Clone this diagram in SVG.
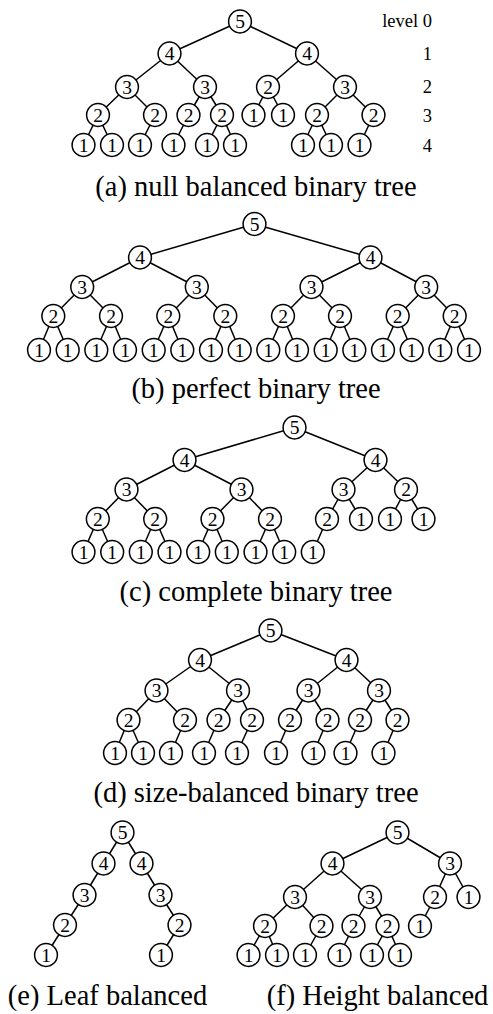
<svg xmlns="http://www.w3.org/2000/svg" width="493" height="1014" viewBox="0 0 493 1014">
<style>
.n use{fill:#fff;stroke:#000;stroke-width:1.5}
.n text{font-family:"Liberation Serif","Times New Roman",serif;font-size:19.5px;text-anchor:middle;fill:#000;stroke:none}
#connectors line{stroke:#000;stroke-width:1.5}
.cap{font-family:"Liberation Serif","Times New Roman",serif;font-size:28.5px;text-anchor:middle;fill:#000}
.lvl{font-family:"Liberation Serif","Times New Roman",serif;font-size:18.5px;text-anchor:end;fill:#000}
</style>
<defs>
<circle id="c" r="11.4" fill="#fff" stroke="#000" stroke-width="1.5"/>
</defs>
<g id="connectors">
<!-- tree a -->
<line x1="240" y1="21.5" x2="169.5" y2="53.5"/>
<line x1="240" y1="21.5" x2="307" y2="53.5"/>
<line x1="169.5" y1="53.5" x2="127" y2="87"/>
<line x1="169.5" y1="53.5" x2="205" y2="87"/>
<line x1="307" y1="53.5" x2="268" y2="87"/>
<line x1="307" y1="53.5" x2="345" y2="87"/>
<line x1="127" y1="87" x2="98" y2="115"/>
<line x1="127" y1="87" x2="155" y2="115"/>
<line x1="205" y1="87" x2="188.5" y2="115"/>
<line x1="205" y1="87" x2="222" y2="115"/>
<line x1="268" y1="87" x2="253.5" y2="115"/>
<line x1="268" y1="87" x2="283" y2="115"/>
<line x1="345" y1="87" x2="317" y2="115"/>
<line x1="345" y1="87" x2="373.5" y2="115"/>
<line x1="98" y1="115" x2="83.5" y2="145"/>
<line x1="98" y1="115" x2="112" y2="145"/>
<line x1="155" y1="115" x2="140" y2="145"/>
<line x1="188.5" y1="115" x2="173.5" y2="145"/>
<line x1="222" y1="115" x2="207" y2="145"/>
<line x1="222" y1="115" x2="235" y2="145"/>
<line x1="317" y1="115" x2="303" y2="145"/>
<line x1="317" y1="115" x2="331" y2="145"/>
<line x1="373.5" y1="115" x2="359.5" y2="145"/>
<!-- tree b -->
<line x1="254.5" y1="224" x2="140" y2="257.5"/>
<line x1="254.5" y1="224" x2="370.5" y2="257.5"/>
<line x1="140" y1="257.5" x2="82.2" y2="287"/>
<line x1="140" y1="257.5" x2="196.8" y2="287"/>
<line x1="370.5" y1="257.5" x2="311.5" y2="287"/>
<line x1="370.5" y1="257.5" x2="426.2" y2="287"/>
<line x1="82.2" y1="287" x2="53.3" y2="316"/>
<line x1="82.2" y1="287" x2="111" y2="316"/>
<line x1="196.8" y1="287" x2="168.3" y2="316"/>
<line x1="196.8" y1="287" x2="225.3" y2="316"/>
<line x1="311.5" y1="287" x2="283" y2="316"/>
<line x1="311.5" y1="287" x2="340" y2="316"/>
<line x1="426.2" y1="287" x2="397.7" y2="316"/>
<line x1="426.2" y1="287" x2="454.7" y2="316"/>
<line x1="53.3" y1="316" x2="39" y2="350"/>
<line x1="53.3" y1="316" x2="67.7" y2="350"/>
<line x1="111" y1="316" x2="96.3" y2="350"/>
<line x1="111" y1="316" x2="125" y2="350"/>
<line x1="168.3" y1="316" x2="153.7" y2="350"/>
<line x1="168.3" y1="316" x2="182.3" y2="350"/>
<line x1="225.3" y1="316" x2="211" y2="350"/>
<line x1="225.3" y1="316" x2="239.7" y2="350"/>
<line x1="283" y1="316" x2="268.3" y2="350"/>
<line x1="283" y1="316" x2="297" y2="350"/>
<line x1="340" y1="316" x2="325.7" y2="350"/>
<line x1="340" y1="316" x2="354.3" y2="350"/>
<line x1="397.7" y1="316" x2="383" y2="350"/>
<line x1="397.7" y1="316" x2="411.7" y2="350"/>
<line x1="454.7" y1="316" x2="440.3" y2="350"/>
<line x1="454.7" y1="316" x2="469" y2="350"/>
<!-- tree c -->
<line x1="294.5" y1="427.5" x2="184.5" y2="460"/>
<line x1="294.5" y1="427.5" x2="375.5" y2="460"/>
<line x1="184.5" y1="460" x2="126.5" y2="489.5"/>
<line x1="184.5" y1="460" x2="241.5" y2="489.5"/>
<line x1="375.5" y1="460" x2="343.5" y2="489.5"/>
<line x1="375.5" y1="460" x2="406" y2="489.5"/>
<line x1="126.5" y1="489.5" x2="97.8" y2="519"/>
<line x1="126.5" y1="489.5" x2="155.2" y2="519"/>
<line x1="241.5" y1="489.5" x2="212.5" y2="519"/>
<line x1="241.5" y1="489.5" x2="270" y2="519"/>
<line x1="343.5" y1="489.5" x2="327" y2="519"/>
<line x1="343.5" y1="489.5" x2="361" y2="519"/>
<line x1="406" y1="489.5" x2="390" y2="519"/>
<line x1="406" y1="489.5" x2="423.5" y2="519"/>
<line x1="97.8" y1="519" x2="83.5" y2="552"/>
<line x1="97.8" y1="519" x2="112.2" y2="552"/>
<line x1="155.2" y1="519" x2="140.8" y2="552"/>
<line x1="155.2" y1="519" x2="169.5" y2="552"/>
<line x1="212.5" y1="519" x2="198.2" y2="552"/>
<line x1="212.5" y1="519" x2="226.8" y2="552"/>
<line x1="270" y1="519" x2="255.5" y2="552"/>
<line x1="270" y1="519" x2="284.2" y2="552"/>
<line x1="327" y1="519" x2="312.8" y2="552"/>
<!-- tree d -->
<line x1="270.5" y1="630.5" x2="200" y2="660"/>
<line x1="270.5" y1="630.5" x2="346.5" y2="660"/>
<line x1="200" y1="660" x2="156.5" y2="690.5"/>
<line x1="200" y1="660" x2="238" y2="690.5"/>
<line x1="346.5" y1="660" x2="308.5" y2="690.5"/>
<line x1="346.5" y1="660" x2="379" y2="690.5"/>
<line x1="156.5" y1="690.5" x2="128.5" y2="720"/>
<line x1="156.5" y1="690.5" x2="185" y2="720"/>
<line x1="238" y1="690.5" x2="218.5" y2="720"/>
<line x1="238" y1="690.5" x2="252" y2="720"/>
<line x1="308.5" y1="690.5" x2="290" y2="720"/>
<line x1="308.5" y1="690.5" x2="327.5" y2="720"/>
<line x1="379" y1="690.5" x2="360" y2="720"/>
<line x1="379" y1="690.5" x2="397.5" y2="720"/>
<line x1="128.5" y1="720" x2="115" y2="753"/>
<line x1="128.5" y1="720" x2="143" y2="753"/>
<line x1="185" y1="720" x2="171" y2="753"/>
<line x1="218.5" y1="720" x2="204" y2="753"/>
<line x1="252" y1="720" x2="237" y2="753"/>
<line x1="290" y1="720" x2="276" y2="753"/>
<line x1="327.5" y1="720" x2="313.5" y2="753"/>
<line x1="360" y1="720" x2="345.5" y2="753"/>
<line x1="397.5" y1="720" x2="383.5" y2="753"/>
<!-- tree e -->
<line x1="122.5" y1="832.5" x2="103.5" y2="863.5"/>
<line x1="122.5" y1="832.5" x2="141.5" y2="863.5"/>
<line x1="103.5" y1="863.5" x2="84.5" y2="895"/>
<line x1="141.5" y1="863.5" x2="160.5" y2="895"/>
<line x1="84.5" y1="895" x2="65" y2="925"/>
<line x1="160.5" y1="895" x2="179.5" y2="925"/>
<line x1="65" y1="925" x2="46" y2="955"/>
<line x1="179.5" y1="925" x2="161" y2="955"/>
<!-- tree f -->
<line x1="397.5" y1="832.5" x2="332.5" y2="863.5"/>
<line x1="397.5" y1="832.5" x2="450" y2="863.5"/>
<line x1="332.5" y1="863.5" x2="295" y2="897"/>
<line x1="332.5" y1="863.5" x2="370" y2="897"/>
<line x1="450" y1="863.5" x2="435" y2="897"/>
<line x1="450" y1="863.5" x2="468.5" y2="897"/>
<line x1="295" y1="897" x2="265" y2="926"/>
<line x1="295" y1="897" x2="321.5" y2="926"/>
<line x1="370" y1="897" x2="353.5" y2="926"/>
<line x1="370" y1="897" x2="387.5" y2="926"/>
<line x1="435" y1="897" x2="420" y2="926"/>
<line x1="265" y1="926" x2="248.5" y2="955"/>
<line x1="265" y1="926" x2="277" y2="955"/>
<line x1="321.5" y1="926" x2="305" y2="955"/>
<line x1="353.5" y1="926" x2="339.5" y2="955"/>
<line x1="387.5" y1="926" x2="372" y2="955"/>
<line x1="387.5" y1="926" x2="400" y2="955"/>
</g>

<g id="tree-a">
<g id="a0" class="n" transform="translate(240,21.5)"><use href="#c"/><text y="6.6">5</text></g>
<g id="a1" class="n" transform="translate(169.5,53.5)"><use href="#c"/><text y="6.6">4</text></g>
<g id="a2" class="n" transform="translate(307,53.5)"><use href="#c"/><text y="6.6">4</text></g>
<g id="a3" class="n" transform="translate(127,87)"><use href="#c"/><text y="6.6">3</text></g>
<g id="a4" class="n" transform="translate(205,87)"><use href="#c"/><text y="6.6">3</text></g>
<g id="a5" class="n" transform="translate(268,87)"><use href="#c"/><text y="6.6">2</text></g>
<g id="a6" class="n" transform="translate(345,87)"><use href="#c"/><text y="6.6">3</text></g>
<g id="a7" class="n" transform="translate(98,115)"><use href="#c"/><text y="6.6">2</text></g>
<g id="a8" class="n" transform="translate(155,115)"><use href="#c"/><text y="6.6">2</text></g>
<g id="a9" class="n" transform="translate(188.5,115)"><use href="#c"/><text y="6.6">2</text></g>
<g id="a10" class="n" transform="translate(222,115)"><use href="#c"/><text y="6.6">2</text></g>
<g id="a11" class="n" transform="translate(253.5,115)"><use href="#c"/><text y="6.6">1</text></g>
<g id="a12" class="n" transform="translate(283,115)"><use href="#c"/><text y="6.6">1</text></g>
<g id="a13" class="n" transform="translate(317,115)"><use href="#c"/><text y="6.6">2</text></g>
<g id="a14" class="n" transform="translate(373.5,115)"><use href="#c"/><text y="6.6">2</text></g>
<g id="a15" class="n" transform="translate(83.5,145)"><use href="#c"/><text y="6.6">1</text></g>
<g id="a16" class="n" transform="translate(112,145)"><use href="#c"/><text y="6.6">1</text></g>
<g id="a17" class="n" transform="translate(140,145)"><use href="#c"/><text y="6.6">1</text></g>
<g id="a18" class="n" transform="translate(173.5,145)"><use href="#c"/><text y="6.6">1</text></g>
<g id="a19" class="n" transform="translate(207,145)"><use href="#c"/><text y="6.6">1</text></g>
<g id="a20" class="n" transform="translate(235,145)"><use href="#c"/><text y="6.6">1</text></g>
<g id="a21" class="n" transform="translate(303,145)"><use href="#c"/><text y="6.6">1</text></g>
<g id="a22" class="n" transform="translate(331,145)"><use href="#c"/><text y="6.6">1</text></g>
<g id="a23" class="n" transform="translate(359.5,145)"><use href="#c"/><text y="6.6">1</text></g>
</g>
<g id="levels">
<text class="lvl" x="432" y="27">level 0</text>
<text class="lvl" x="432" y="59.7">1</text>
<text class="lvl" x="432" y="92.5">2</text>
<text class="lvl" x="432" y="121.5">3</text>
<text class="lvl" x="432" y="152.3">4</text>
</g>
<text id="cap-a" class="cap" x="256" y="196">(a) null balanced binary tree</text>

<g id="tree-b">
<g id="b0" class="n" transform="translate(254.5,224)"><use href="#c"/><text y="6.6">5</text></g>
<g id="b1" class="n" transform="translate(140,257.5)"><use href="#c"/><text y="6.6">4</text></g>
<g id="b2" class="n" transform="translate(370.5,257.5)"><use href="#c"/><text y="6.6">4</text></g>
<g id="b3" class="n" transform="translate(82.2,287)"><use href="#c"/><text y="6.6">3</text></g>
<g id="b4" class="n" transform="translate(196.8,287)"><use href="#c"/><text y="6.6">3</text></g>
<g id="b5" class="n" transform="translate(311.5,287)"><use href="#c"/><text y="6.6">3</text></g>
<g id="b6" class="n" transform="translate(426.2,287)"><use href="#c"/><text y="6.6">3</text></g>
<g id="b7" class="n" transform="translate(53.3,316)"><use href="#c"/><text y="6.6">2</text></g>
<g id="b8" class="n" transform="translate(111,316)"><use href="#c"/><text y="6.6">2</text></g>
<g id="b9" class="n" transform="translate(168.3,316)"><use href="#c"/><text y="6.6">2</text></g>
<g id="b10" class="n" transform="translate(225.3,316)"><use href="#c"/><text y="6.6">2</text></g>
<g id="b11" class="n" transform="translate(283,316)"><use href="#c"/><text y="6.6">2</text></g>
<g id="b12" class="n" transform="translate(340,316)"><use href="#c"/><text y="6.6">2</text></g>
<g id="b13" class="n" transform="translate(397.7,316)"><use href="#c"/><text y="6.6">2</text></g>
<g id="b14" class="n" transform="translate(454.7,316)"><use href="#c"/><text y="6.6">2</text></g>
<g id="b15" class="n" transform="translate(39,350)"><use href="#c"/><text y="6.6">1</text></g>
<g id="b16" class="n" transform="translate(67.7,350)"><use href="#c"/><text y="6.6">1</text></g>
<g id="b17" class="n" transform="translate(96.3,350)"><use href="#c"/><text y="6.6">1</text></g>
<g id="b18" class="n" transform="translate(125,350)"><use href="#c"/><text y="6.6">1</text></g>
<g id="b19" class="n" transform="translate(153.7,350)"><use href="#c"/><text y="6.6">1</text></g>
<g id="b20" class="n" transform="translate(182.3,350)"><use href="#c"/><text y="6.6">1</text></g>
<g id="b21" class="n" transform="translate(211,350)"><use href="#c"/><text y="6.6">1</text></g>
<g id="b22" class="n" transform="translate(239.7,350)"><use href="#c"/><text y="6.6">1</text></g>
<g id="b23" class="n" transform="translate(268.3,350)"><use href="#c"/><text y="6.6">1</text></g>
<g id="b24" class="n" transform="translate(297,350)"><use href="#c"/><text y="6.6">1</text></g>
<g id="b25" class="n" transform="translate(325.7,350)"><use href="#c"/><text y="6.6">1</text></g>
<g id="b26" class="n" transform="translate(354.3,350)"><use href="#c"/><text y="6.6">1</text></g>
<g id="b27" class="n" transform="translate(383,350)"><use href="#c"/><text y="6.6">1</text></g>
<g id="b28" class="n" transform="translate(411.7,350)"><use href="#c"/><text y="6.6">1</text></g>
<g id="b29" class="n" transform="translate(440.3,350)"><use href="#c"/><text y="6.6">1</text></g>
<g id="b30" class="n" transform="translate(469,350)"><use href="#c"/><text y="6.6">1</text></g>
</g>
<text id="cap-b" class="cap" x="256" y="398">(b) perfect binary tree</text>

<g id="tree-c">
<g id="c0" class="n" transform="translate(294.5,427.5)"><use href="#c"/><text y="6.6">5</text></g>
<g id="c1" class="n" transform="translate(184.5,460)"><use href="#c"/><text y="6.6">4</text></g>
<g id="c2" class="n" transform="translate(375.5,460)"><use href="#c"/><text y="6.6">4</text></g>
<g id="c3" class="n" transform="translate(126.5,489.5)"><use href="#c"/><text y="6.6">3</text></g>
<g id="c4" class="n" transform="translate(241.5,489.5)"><use href="#c"/><text y="6.6">3</text></g>
<g id="c5" class="n" transform="translate(343.5,489.5)"><use href="#c"/><text y="6.6">3</text></g>
<g id="c6" class="n" transform="translate(406,489.5)"><use href="#c"/><text y="6.6">2</text></g>
<g id="c7" class="n" transform="translate(97.8,519)"><use href="#c"/><text y="6.6">2</text></g>
<g id="c8" class="n" transform="translate(155.2,519)"><use href="#c"/><text y="6.6">2</text></g>
<g id="c9" class="n" transform="translate(212.5,519)"><use href="#c"/><text y="6.6">2</text></g>
<g id="c10" class="n" transform="translate(270,519)"><use href="#c"/><text y="6.6">2</text></g>
<g id="c11" class="n" transform="translate(327,519)"><use href="#c"/><text y="6.6">2</text></g>
<g id="c12" class="n" transform="translate(361,519)"><use href="#c"/><text y="6.6">1</text></g>
<g id="c13" class="n" transform="translate(390,519)"><use href="#c"/><text y="6.6">1</text></g>
<g id="c14" class="n" transform="translate(423.5,519)"><use href="#c"/><text y="6.6">1</text></g>
<g id="c15" class="n" transform="translate(83.5,552)"><use href="#c"/><text y="6.6">1</text></g>
<g id="c16" class="n" transform="translate(112.2,552)"><use href="#c"/><text y="6.6">1</text></g>
<g id="c17" class="n" transform="translate(140.8,552)"><use href="#c"/><text y="6.6">1</text></g>
<g id="c18" class="n" transform="translate(169.5,552)"><use href="#c"/><text y="6.6">1</text></g>
<g id="c19" class="n" transform="translate(198.2,552)"><use href="#c"/><text y="6.6">1</text></g>
<g id="c20" class="n" transform="translate(226.8,552)"><use href="#c"/><text y="6.6">1</text></g>
<g id="c21" class="n" transform="translate(255.5,552)"><use href="#c"/><text y="6.6">1</text></g>
<g id="c22" class="n" transform="translate(284.2,552)"><use href="#c"/><text y="6.6">1</text></g>
<g id="c23" class="n" transform="translate(312.8,552)"><use href="#c"/><text y="6.6">1</text></g>
</g>
<text id="cap-c" class="cap" x="256" y="601">(c) complete binary tree</text>

<g id="tree-d">
<g id="d0" class="n" transform="translate(270.5,630.5)"><use href="#c"/><text y="6.6">5</text></g>
<g id="d1" class="n" transform="translate(200,660)"><use href="#c"/><text y="6.6">4</text></g>
<g id="d2" class="n" transform="translate(346.5,660)"><use href="#c"/><text y="6.6">4</text></g>
<g id="d3" class="n" transform="translate(156.5,690.5)"><use href="#c"/><text y="6.6">3</text></g>
<g id="d4" class="n" transform="translate(238,690.5)"><use href="#c"/><text y="6.6">3</text></g>
<g id="d5" class="n" transform="translate(308.5,690.5)"><use href="#c"/><text y="6.6">3</text></g>
<g id="d6" class="n" transform="translate(379,690.5)"><use href="#c"/><text y="6.6">3</text></g>
<g id="d7" class="n" transform="translate(128.5,720)"><use href="#c"/><text y="6.6">2</text></g>
<g id="d8" class="n" transform="translate(185,720)"><use href="#c"/><text y="6.6">2</text></g>
<g id="d9" class="n" transform="translate(218.5,720)"><use href="#c"/><text y="6.6">2</text></g>
<g id="d10" class="n" transform="translate(252,720)"><use href="#c"/><text y="6.6">2</text></g>
<g id="d11" class="n" transform="translate(290,720)"><use href="#c"/><text y="6.6">2</text></g>
<g id="d12" class="n" transform="translate(327.5,720)"><use href="#c"/><text y="6.6">2</text></g>
<g id="d13" class="n" transform="translate(360,720)"><use href="#c"/><text y="6.6">2</text></g>
<g id="d14" class="n" transform="translate(397.5,720)"><use href="#c"/><text y="6.6">2</text></g>
<g id="d15" class="n" transform="translate(115,753)"><use href="#c"/><text y="6.6">1</text></g>
<g id="d16" class="n" transform="translate(143,753)"><use href="#c"/><text y="6.6">1</text></g>
<g id="d17" class="n" transform="translate(171,753)"><use href="#c"/><text y="6.6">1</text></g>
<g id="d18" class="n" transform="translate(204,753)"><use href="#c"/><text y="6.6">1</text></g>
<g id="d19" class="n" transform="translate(237,753)"><use href="#c"/><text y="6.6">1</text></g>
<g id="d20" class="n" transform="translate(276,753)"><use href="#c"/><text y="6.6">1</text></g>
<g id="d21" class="n" transform="translate(313.5,753)"><use href="#c"/><text y="6.6">1</text></g>
<g id="d22" class="n" transform="translate(345.5,753)"><use href="#c"/><text y="6.6">1</text></g>
<g id="d23" class="n" transform="translate(383.5,753)"><use href="#c"/><text y="6.6">1</text></g>
</g>
<text id="cap-d" class="cap" x="256" y="802">(d) size-balanced binary tree</text>

<g id="tree-e">
<g id="e0" class="n" transform="translate(122.5,832.5)"><use href="#c"/><text y="6.6">5</text></g>
<g id="e1" class="n" transform="translate(103.5,863.5)"><use href="#c"/><text y="6.6">4</text></g>
<g id="e2" class="n" transform="translate(141.5,863.5)"><use href="#c"/><text y="6.6">4</text></g>
<g id="e3" class="n" transform="translate(84.5,895)"><use href="#c"/><text y="6.6">3</text></g>
<g id="e4" class="n" transform="translate(160.5,895)"><use href="#c"/><text y="6.6">3</text></g>
<g id="e5" class="n" transform="translate(65,925)"><use href="#c"/><text y="6.6">2</text></g>
<g id="e6" class="n" transform="translate(179.5,925)"><use href="#c"/><text y="6.6">2</text></g>
<g id="e7" class="n" transform="translate(46,955)"><use href="#c"/><text y="6.6">1</text></g>
<g id="e8" class="n" transform="translate(161,955)"><use href="#c"/><text y="6.6">1</text></g>
</g>
<text id="cap-e" class="cap" x="107.5" y="1005">(e) Leaf balanced</text>

<g id="tree-f">
<g id="f0" class="n" transform="translate(397.5,832.5)"><use href="#c"/><text y="6.6">5</text></g>
<g id="f1" class="n" transform="translate(332.5,863.5)"><use href="#c"/><text y="6.6">4</text></g>
<g id="f2" class="n" transform="translate(450,863.5)"><use href="#c"/><text y="6.6">3</text></g>
<g id="f3" class="n" transform="translate(295,897)"><use href="#c"/><text y="6.6">3</text></g>
<g id="f4" class="n" transform="translate(370,897)"><use href="#c"/><text y="6.6">3</text></g>
<g id="f5" class="n" transform="translate(435,897)"><use href="#c"/><text y="6.6">2</text></g>
<g id="f6" class="n" transform="translate(468.5,897)"><use href="#c"/><text y="6.6">1</text></g>
<g id="f7" class="n" transform="translate(265,926)"><use href="#c"/><text y="6.6">2</text></g>
<g id="f8" class="n" transform="translate(321.5,926)"><use href="#c"/><text y="6.6">2</text></g>
<g id="f9" class="n" transform="translate(353.5,926)"><use href="#c"/><text y="6.6">2</text></g>
<g id="f10" class="n" transform="translate(387.5,926)"><use href="#c"/><text y="6.6">2</text></g>
<g id="f11" class="n" transform="translate(420,926)"><use href="#c"/><text y="6.6">1</text></g>
<g id="f12" class="n" transform="translate(248.5,955)"><use href="#c"/><text y="6.6">1</text></g>
<g id="f13" class="n" transform="translate(277,955)"><use href="#c"/><text y="6.6">1</text></g>
<g id="f14" class="n" transform="translate(305,955)"><use href="#c"/><text y="6.6">1</text></g>
<g id="f15" class="n" transform="translate(339.5,955)"><use href="#c"/><text y="6.6">1</text></g>
<g id="f16" class="n" transform="translate(372,955)"><use href="#c"/><text y="6.6">1</text></g>
<g id="f17" class="n" transform="translate(400,955)"><use href="#c"/><text y="6.6">1</text></g>
</g>
<text id="cap-f" class="cap" x="377.5" y="1005">(f) Height balanced</text>
</svg>
